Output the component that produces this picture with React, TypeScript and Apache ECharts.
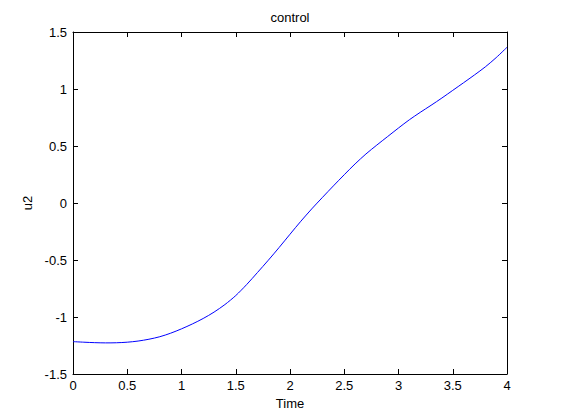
import React, { useEffect, useRef } from "react";
import * as echarts from "echarts";

const times = [0, 0.1, 0.2, 0.3, 0.4, 0.5, 0.6, 0.7, 0.8, 0.9, 1.0, 1.1, 1.2, 1.3, 1.4, 1.5, 1.6, 1.7, 1.8, 1.9, 2.0, 2.1, 2.2, 2.3, 2.4, 2.5, 2.6, 2.7, 2.8, 2.9, 3.0, 3.1, 3.2, 3.3, 3.4, 3.5, 3.6, 3.7, 3.8, 3.9, 4.0];
const u2 = [-1.216, -1.221, -1.225, -1.227, -1.226, -1.221, -1.211, -1.195, -1.173, -1.142, -1.104, -1.061, -1.013, -0.957, -0.891, -0.812, -0.716, -0.61, -0.502, -0.39, -0.274, -0.16, -0.052, 0.05, 0.15, 0.248, 0.343, 0.43, 0.508, 0.583, 0.658, 0.73, 0.795, 0.857, 0.921, 0.988, 1.055, 1.123, 1.194, 1.275, 1.366];

const titleText = "control";
const xName = "Time";
const yName = "u2";

const FONT = "Liberation Sans, Arial, Helvetica, sans-serif";

export default function App() {
  const ref = useRef<HTMLDivElement>(null);
  useEffect(() => {
    if (!ref.current) return;
    const chart = echarts.init(ref.current, undefined, { renderer: "svg" });
    const tick = { show: true, inside: true, length: 5, lineStyle: { color: "#000", width: 1 } };
    const line = { show: true, onZero: false, lineStyle: { color: "#000", width: 1 } };
    const label = { color: "#000", fontSize: 13, fontFamily: FONT };
    chart.setOption({
      animation: false,
      backgroundColor: "#fff",
      title: {
        text: titleText,
        left: 290,
        top: 11,
        textAlign: "center",
        padding: 0,
        textStyle: { color: "#000", fontSize: 13, fontWeight: "normal", fontFamily: FONT },
      },
      grid: { left: 73, right: 54, top: 32, bottom: 46, containLabel: false },
      xAxis: [
        {
          type: "value",
          min: 0,
          max: 4,
          interval: 0.5,
          position: "bottom",
          name: xName,
          nameLocation: "middle",
          nameGap: 21,
          nameTextStyle: label,
          axisLine: line,
          axisTick: tick,
          axisLabel: { ...label, margin: 5 },
          splitLine: { show: false },
        },
        {
          type: "value",
          min: 0,
          max: 4,
          interval: 0.5,
          position: "top",
          axisLine: line,
          axisTick: tick,
          axisLabel: { show: false },
          splitLine: { show: false },
        },
      ],
      yAxis: [
        {
          type: "value",
          min: -1.5,
          max: 1.5,
          interval: 0.5,
          position: "left",
          name: yName,
          nameLocation: "middle",
          nameGap: 37,
          nameTextStyle: label,
          axisLine: line,
          axisTick: tick,
          axisLabel: { ...label, margin: 6 },
          splitLine: { show: false },
        },
        {
          type: "value",
          min: -1.5,
          max: 1.5,
          interval: 0.5,
          position: "right",
          axisLine: line,
          axisTick: tick,
          axisLabel: { show: false },
          splitLine: { show: false },
        },
      ],
      series: [
        {
          type: "line",
          data: times.map((t, i) => [t, u2[i]]),
          xAxisIndex: 0,
          yAxisIndex: 0,
          showSymbol: false,
          smooth: 0.3,
          lineStyle: { color: "#0000ff", width: 1 },
        },
      ],
    });
    return () => chart.dispose();
  }, []);
  return (
    <div
      ref={ref}
      style={{ position: "fixed", left: 0, top: 0, width: 561, height: 420, background: "#fff" }}
    />
  );
}
